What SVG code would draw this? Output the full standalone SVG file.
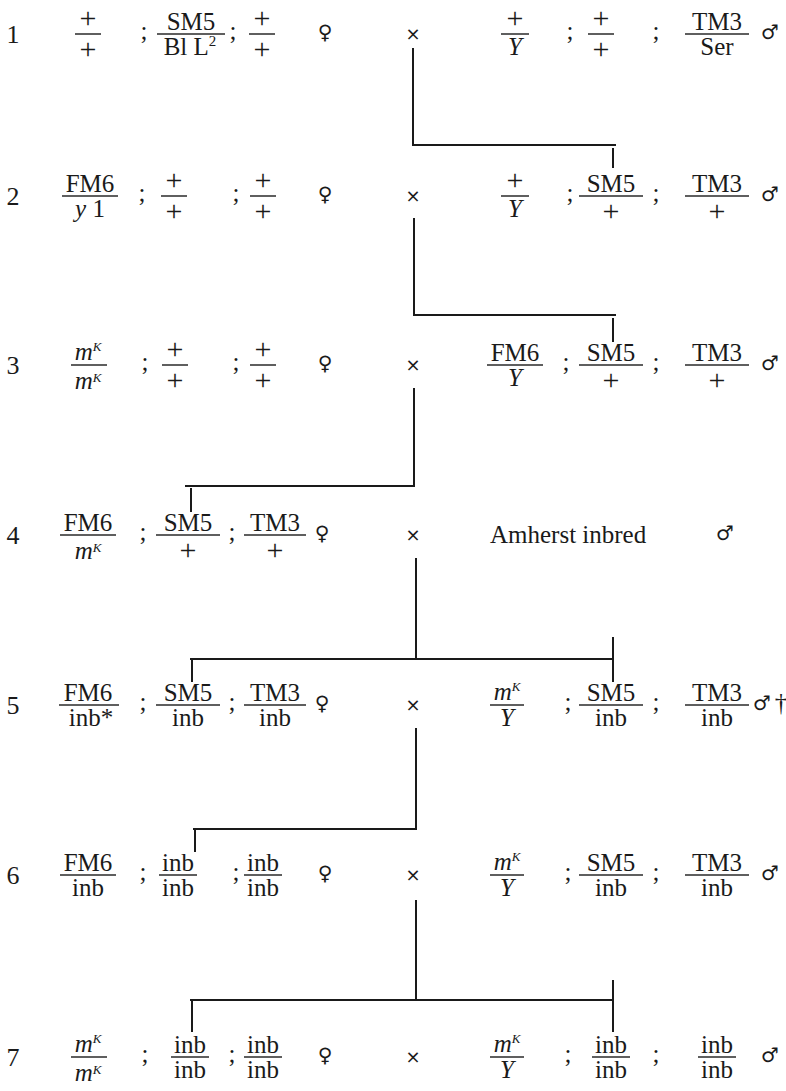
<svg xmlns="http://www.w3.org/2000/svg" width="786" height="1091" viewBox="0 0 786 1091">
<style>
text{font-family:"Liberation Serif","DejaVu Serif",serif;font-size:25px;fill:#1a1a1a;text-anchor:middle}
.p{font-size:30px}
.i{font-style:italic}
.sup{font-size:13px;font-style:italic}
.num{font-size:26px}
.sym{font-family:"DejaVu Sans",sans-serif;font-size:20px}
.x{font-family:"DejaVu Sans",sans-serif;font-size:18px}
.bar{stroke:#2a2a2a;stroke-width:1.5}
.conn{stroke:#1a1a1a;stroke-width:2;fill:none}
.st{text-anchor:start}
</style>
<rect width="786" height="1091" fill="#fff"/>

<g id="connectors">
<path class="conn" d="M413,48 V145 H616 M613,148 V168"/>
<path class="conn" d="M414,218 V315 H616 M613,318 V342"/>
<path class="conn" d="M414,388 V486 H185 M191,488 V512"/>
<path class="conn" d="M416,558 V659 M190,659 H614 M192,659 V682 M613,637 V682"/>
<path class="conn" d="M416,728 V829 H193 M195,830 V852"/>
<path class="conn" d="M416,900 V1000 M190,1000 H614 M192,1000 V1032 M613,980 V1032"/>
</g>

<!-- Row 1, L=34 -->
<g id="row1-label"><text class="num" x="13" y="43">1</text></g>
<g id="row1-female">
<text class="p" x="88" y="28">+</text><line class="bar" x1="75" y1="34" x2="101" y2="34"/><text class="p" x="88" y="59">+</text>
<text x="144" y="39">;</text>
<text x="191" y="30">SM5</text><line class="bar" x1="157" y1="34" x2="225" y2="34"/><text x="190" y="55">Bl L<tspan font-size="15" dy="-9">2</tspan></text>
<text x="233" y="39">;</text>
<text class="p" x="262" y="28">+</text><line class="bar" x1="249" y1="34" x2="275" y2="34"/><text class="p" x="262" y="59">+</text>
<text class="sym" x="325" y="39">♀</text>
</g>
<g id="row1-male">
<text class="x" x="413" y="40">×</text>
<text class="p" x="515" y="28">+</text><line class="bar" x1="501" y1="34" x2="529" y2="34"/><text class="i" x="515" y="55">Y</text>
<text x="570" y="39">;</text>
<text class="p" x="601" y="28">+</text><line class="bar" x1="588" y1="34" x2="614" y2="34"/><text class="p" x="601" y="59">+</text>
<text x="656" y="39">;</text>
<text x="717" y="30">TM3</text><line class="bar" x1="685" y1="34" x2="749" y2="34"/><text x="717" y="55">Ser</text>
<text class="sym" x="770" y="39">♂</text>
</g>

<!-- Row 2, L=196 -->
<g id="row2-label"><text class="num" x="13" y="205">2</text></g>
<g id="row2-female">
<text x="90" y="192">FM6</text><line class="bar" x1="62" y1="196" x2="118" y2="196"/><text x="90" y="217"><tspan class="i">y</tspan> 1</text>
<text x="142" y="201">;</text>
<text class="p" x="174" y="190">+</text><line class="bar" x1="161" y1="196" x2="187" y2="196"/><text class="p" x="174" y="221">+</text>
<text x="236" y="201">;</text>
<text class="p" x="263" y="190">+</text><line class="bar" x1="250" y1="196" x2="276" y2="196"/><text class="p" x="263" y="221">+</text>
<text class="sym" x="325" y="201">♀</text>
</g>
<g id="row2-male">
<text class="x" x="413" y="202">×</text>
<text class="p" x="515" y="190">+</text><line class="bar" x1="501" y1="196" x2="529" y2="196"/><text class="i" x="515" y="217">Y</text>
<text x="570" y="201">;</text>
<text x="611" y="192">SM5</text><line class="bar" x1="579" y1="196" x2="643" y2="196"/><text class="p" x="611" y="221">+</text>
<text x="656" y="201">;</text>
<text x="717" y="192">TM3</text><line class="bar" x1="685" y1="196" x2="749" y2="196"/><text class="p" x="717" y="221">+</text>
<text class="sym" x="770" y="201">♂</text>
</g>

<!-- Row 3, L=365 -->
<g id="row3-label"><text class="num" x="13" y="374">3</text></g>
<g id="row3-female">
<text class="i" x="88" y="360">m<tspan class="sup" dy="-9">K</tspan></text><line class="bar" x1="71" y1="365" x2="107" y2="365"/><text class="i" x="88" y="389">m<tspan class="sup" dy="-7">K</tspan></text>
<text x="145" y="370">;</text>
<text class="p" x="175" y="359">+</text><line class="bar" x1="162" y1="365" x2="188" y2="365"/><text class="p" x="175" y="390">+</text>
<text x="236" y="370">;</text>
<text class="p" x="263" y="359">+</text><line class="bar" x1="250" y1="365" x2="276" y2="365"/><text class="p" x="263" y="390">+</text>
<text class="sym" x="325" y="370">♀</text>
</g>
<g id="row3-male">
<text class="x" x="413" y="371">×</text>
<text x="515" y="361">FM6</text><line class="bar" x1="487" y1="365" x2="543" y2="365"/><text class="i" x="515" y="386">Y</text>
<text x="566" y="370">;</text>
<text x="611" y="361">SM5</text><line class="bar" x1="579" y1="365" x2="643" y2="365"/><text class="p" x="611" y="390">+</text>
<text x="656" y="370">;</text>
<text x="717" y="361">TM3</text><line class="bar" x1="685" y1="365" x2="749" y2="365"/><text class="p" x="717" y="390">+</text>
<text class="sym" x="770" y="370">♂</text>
</g>

<!-- Row 4, L=535 -->
<g id="row4-label"><text class="num" x="13" y="544">4</text></g>
<g id="row4-female">
<text x="88" y="531">FM6</text><line class="bar" x1="60" y1="535" x2="116" y2="535"/><text class="i" x="88" y="559">m<tspan class="sup" dy="-7">K</tspan></text>
<text x="143" y="540">;</text>
<text x="188" y="531">SM5</text><line class="bar" x1="156" y1="535" x2="220" y2="535"/><text class="p" x="188" y="560">+</text>
<text x="232" y="540">;</text>
<text x="275" y="531">TM3</text><line class="bar" x1="244" y1="535" x2="306" y2="535"/><text class="p" x="275" y="560">+</text>
<text class="sym" x="322" y="540">♀</text>
</g>
<g id="row4-male">
<text class="x" x="413" y="541">×</text>
<text class="st" x="490" y="543">Amherst inbred</text>
<text class="sym" x="725" y="540">♂</text>
</g>

<!-- Row 5, L=705 -->
<g id="row5-label"><text class="num" x="13" y="714">5</text></g>
<g id="row5-female">
<text x="88" y="701">FM6</text><line class="bar" x1="59" y1="705" x2="119" y2="705"/><text x="91" y="726">inb*</text>
<text x="143" y="710">;</text>
<text x="188" y="701">SM5</text><line class="bar" x1="156" y1="705" x2="220" y2="705"/><text x="188" y="726">inb</text>
<text x="232" y="710">;</text>
<text x="275" y="701">TM3</text><line class="bar" x1="244" y1="705" x2="306" y2="705"/><text x="275" y="726">inb</text>
<text class="sym" x="322" y="710">♀</text>
</g>
<g id="row5-male">
<text class="x" x="413" y="711">×</text>
<text class="i" x="507" y="700">m<tspan class="sup" dy="-9">K</tspan></text><line class="bar" x1="490" y1="705" x2="524" y2="705"/><text class="i" x="507" y="726">Y</text>
<text x="568" y="710">;</text>
<text x="611" y="701">SM5</text><line class="bar" x1="579" y1="705" x2="643" y2="705"/><text x="611" y="726">inb</text>
<text x="656" y="710">;</text>
<text x="717" y="701">TM3</text><line class="bar" x1="685" y1="705" x2="749" y2="705"/><text x="717" y="726">inb</text>
<text class="sym" x="762" y="710">♂</text>
<text x="781" y="711">†</text>
</g>

<!-- Row 6, L=875 -->
<g id="row6-label"><text class="num" x="13" y="884">6</text></g>
<g id="row6-female">
<text x="88" y="871">FM6</text><line class="bar" x1="60" y1="875" x2="116" y2="875"/><text x="88" y="896">inb</text>
<text x="143" y="880">;</text>
<text x="178" y="871">inb</text><line class="bar" x1="159" y1="875" x2="197" y2="875"/><text x="178" y="896">inb</text>
<text x="236" y="880">;</text>
<text x="263" y="871">inb</text><line class="bar" x1="244" y1="875" x2="282" y2="875"/><text x="263" y="896">inb</text>
<text class="sym" x="325" y="880">♀</text>
</g>
<g id="row6-male">
<text class="x" x="413" y="881">×</text>
<text class="i" x="507" y="870">m<tspan class="sup" dy="-9">K</tspan></text><line class="bar" x1="490" y1="875" x2="524" y2="875"/><text class="i" x="507" y="896">Y</text>
<text x="568" y="880">;</text>
<text x="611" y="871">SM5</text><line class="bar" x1="579" y1="875" x2="643" y2="875"/><text x="611" y="896">inb</text>
<text x="656" y="880">;</text>
<text x="717" y="871">TM3</text><line class="bar" x1="685" y1="875" x2="749" y2="875"/><text x="717" y="896">inb</text>
<text class="sym" x="770" y="880">♂</text>
</g>

<!-- Row 7, L=1057 -->
<g id="row7-label"><text class="num" x="13" y="1066">7</text></g>
<g id="row7-female">
<text class="i" x="88" y="1052">m<tspan class="sup" dy="-9">K</tspan></text><line class="bar" x1="71" y1="1057" x2="107" y2="1057"/><text class="i" x="88" y="1081">m<tspan class="sup" dy="-7">K</tspan></text>
<text x="145" y="1062">;</text>
<text x="190" y="1053">inb</text><line class="bar" x1="171" y1="1057" x2="209" y2="1057"/><text x="190" y="1078">inb</text>
<text x="232" y="1062">;</text>
<text x="263" y="1053">inb</text><line class="bar" x1="244" y1="1057" x2="282" y2="1057"/><text x="263" y="1078">inb</text>
<text class="sym" x="325" y="1062">♀</text>
</g>
<g id="row7-male">
<text class="x" x="413" y="1063">×</text>
<text class="i" x="507" y="1052">m<tspan class="sup" dy="-9">K</tspan></text><line class="bar" x1="490" y1="1057" x2="524" y2="1057"/><text class="i" x="507" y="1078">Y</text>
<text x="568" y="1062">;</text>
<text x="611" y="1053">inb</text><line class="bar" x1="592" y1="1057" x2="630" y2="1057"/><text x="611" y="1078">inb</text>
<text x="656" y="1062">;</text>
<text x="717" y="1053">inb</text><line class="bar" x1="698" y1="1057" x2="736" y2="1057"/><text x="717" y="1078">inb</text>
<text class="sym" x="770" y="1062">♂</text>
</g>
</svg>
